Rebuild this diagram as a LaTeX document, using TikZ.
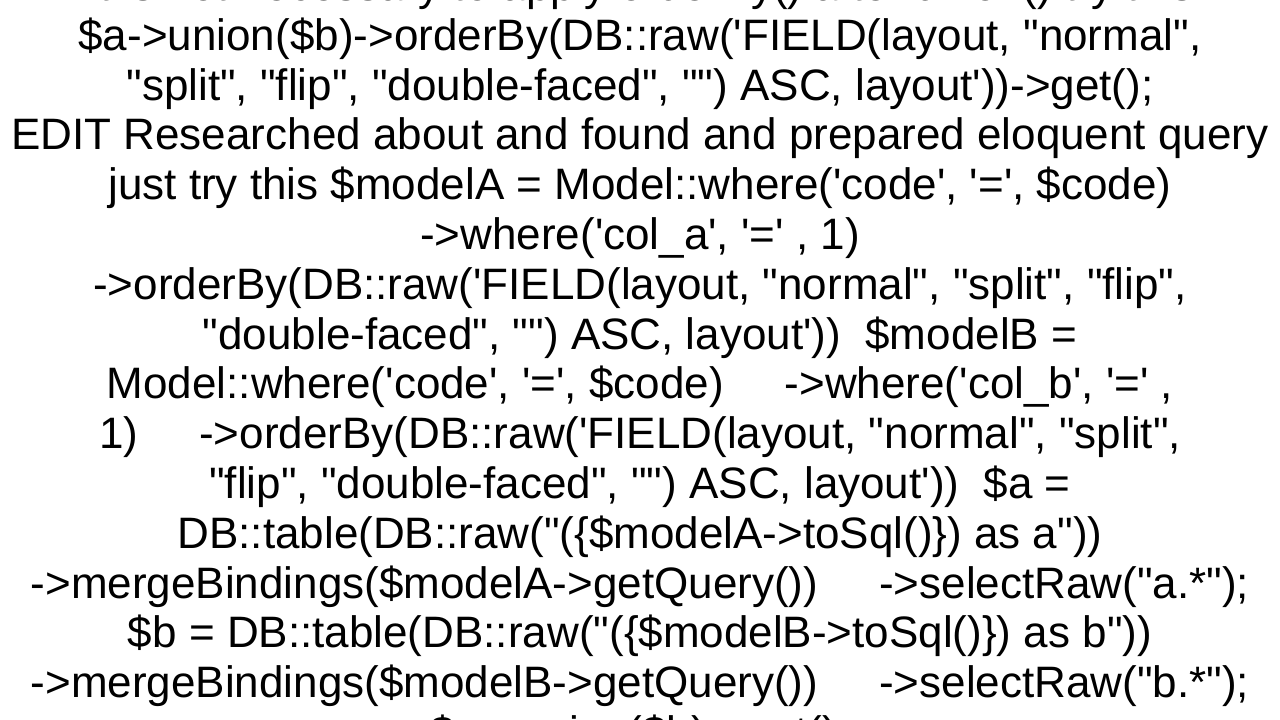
\documentclass[tikz,border=0pt]{standalone}
\usepackage{fontspec}
\newfontfamily\arial{Liberation Sans}
\tikzset{
  txt/.style={anchor=base, inner sep=0pt, outer sep=0pt, font=\arial\fontsize{44}{50}\selectfont, text=black},
}
\newcommand{\sps}[1]{\hspace*{#1\fontdimen2\font}}
\begin{document}
\begin{tikzpicture}[x=1pt,y=1pt]
\useasboundingbox (0,0) rectangle (1280,720);
\clip (0,0) rectangle (1280,720);
\fill[white] (0,0) rectangle (1280,720);
\def\B{719.5}
\def\S{49.8}
\node[txt] (l0) at (640,{\B-0*\S}) {It is not necessary to apply orderBy() after union() try this};
\node[txt] (l1) at (640,{\B-1*\S}) {\$a->union(\$b)->orderBy(DB::raw('FIELD(layout, "normal",};
\node[txt] (l2) at (640,{\B-2*\S}) {"split", "flip", "double-faced", "") ASC, layout'))->get();};
\node[txt] (l3) at (640,{\B-3*\S}) {EDIT Researched about and found and prepared eloquent query};
\node[txt] (l4) at (640,{\B-4*\S}) {just try this \$modelA = Model::where('code', '=', \$code)};
\node[txt] (l5) at (640,{\B-5*\S}) {->where('col\_a', '=' , 1)};
\node[txt] (l6) at (640,{\B-6*\S}) {->orderBy(DB::raw('FIELD(layout, "normal", "split", "flip",};
\node[txt] (l7) at (640,{\B-7*\S}) {"double-faced", "") ASC, layout'))\sps{2}\$modelB =};
\node[txt] (l8) at (640,{\B-8*\S}) {Model::where('code', '=', \$code)\sps{5}->where('col\_b', '=' ,};
\node[txt] (l9) at (640,{\B-9*\S}) {1)\sps{5}->orderBy(DB::raw('FIELD(layout, "normal", "split",};
\node[txt] (l10) at (640,{\B-10*\S}) {"flip", "double-faced", "") ASC, layout'))\sps{2}\$a =};
\node[txt] (l11) at (640,{\B-11*\S}) {DB::table(DB::raw("(\{\$modelA->toSql()\}) as a"))};
\node[txt] (l12) at (640,{\B-12*\S}) {->mergeBindings(\$modelA->getQuery())\sps{5}->selectRaw("a.*");};
\node[txt] (l13) at (640,{\B-13*\S}) {\$b = DB::table(DB::raw("(\{\$modelB->toSql()\}) as b"))};
\node[txt] (l14) at (640,{\B-14*\S}) {->mergeBindings(\$modelB->getQuery())\sps{5}->selectRaw("b.*");};
\node[txt] (l15) at (640,{\B-15*\S}) {\$a->union(\$b)->get();};
\end{tikzpicture}
\end{document}
